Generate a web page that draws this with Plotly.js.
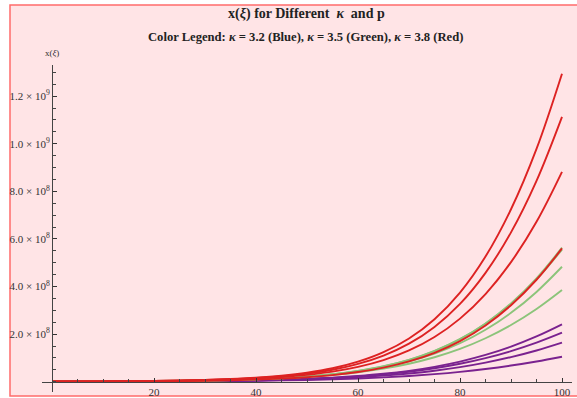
<!DOCTYPE html>
<html>
<head>
<meta charset="utf-8">
<script src="https://cdn.plot.ly/plotly-3.0.1.min.js"></script>
<style>html,body{margin:0;padding:0;background:#fff;}#chart{width:577px;height:398px;}</style>
</head>
<body>
<div id="chart"></div>
<script>
// ξ sample positions
var xi = [0, 5, 10, 15, 20, 25, 30, 35, 40, 45, 50, 55, 60, 65, 70, 75, 80, 85, 90, 95, 100];

// κ = 3.8 (Red)
var red1 = [0.7e6, 1.0e6, 1.5e6, 2.3e6, 3.4e6, 5.1e6, 7.6e6, 1.136e7, 1.695e7, 2.53e7, 3.77e7, 5.63e7, 8.40e7, 1.240e8, 1.814e8, 2.625e8, 3.745e8, 5.26e8, 7.245e8, 9.78e8, 1.294e9];
var red2 = [0.65e6, 0.97e6, 1.43e6, 2.13e6, 3.16e6, 4.7e6, 6.97e6, 1.034e7, 1.536e7, 2.28e7, 3.39e7, 5.03e7, 7.46e7, 1.097e8, 1.597e8, 2.302e8, 3.269e8, 4.574e8, 6.275e8, 8.44e8, 1.113e9];
var red3 = [0.59e6, 0.87e6, 1.28e6, 1.89e6, 2.79e6, 4.11e6, 6.06e6, 8.93e6, 1.316e7, 1.94e7, 2.86e7, 4.21e7, 6.21e7, 9.07e7, 1.312e8, 1.877e8, 2.650e8, 3.684e8, 5.025e8, 6.72e8, 8.82e8];
var red4 = [0.41e6, 0.6e6, 0.88e6, 1.29e6, 1.90e6, 2.79e6, 4.09e6, 6.0e6, 8.8e6, 1.291e7, 1.894e7, 2.78e7, 4.08e7, 5.92e7, 8.52e7, 1.215e8, 1.707e8, 2.364e8, 3.213e8, 4.283e8, 5.60e8];

// κ = 3.5 (Green)
var green1 = [0.53e6, 0.77e6, 1.11e6, 1.61e6, 2.33e6, 3.37e6, 4.87e6, 7.05e6, 1.021e7, 1.478e7, 2.14e7, 3.10e7, 4.485e7, 6.44e7, 9.14e7, 1.288e8, 1.788e8, 2.449e8, 3.292e8, 4.345e8, 5.63e8];
var green2 = [0.56e6, 0.81e6, 1.17e6, 1.69e6, 2.43e6, 3.51e6, 5.06e6, 7.29e6, 1.051e7, 1.516e7, 2.19e7, 3.15e7, 4.544e7, 6.49e7, 9.19e7, 1.290e8, 1.785e8, 2.436e8, 3.264e8, 4.296e8, 5.55e8];
var green3 = [0.62e6, 0.89e6, 1.26e6, 1.80e6, 2.56e6, 3.64e6, 5.19e6, 7.38e6, 1.051e7, 1.496e7, 2.13e7, 3.03e7, 4.315e7, 6.09e7, 8.52e7, 1.181e8, 1.616e8, 2.182e8, 2.894e8, 3.772e8, 4.83e8];
var green4 = [0.75e6, 1.04e6, 1.45e6, 2.02e6, 2.81e6, 3.91e6, 5.45e6, 7.6e6, 1.059e7, 1.475e7, 2.055e7, 2.86e7, 3.99e7, 5.51e7, 7.55e7, 1.026e8, 1.377e8, 1.826e8, 2.380e8, 3.053e8, 3.85e8];

// κ = 3.2 (Blue, drawn purple)
var blue1 = [0.41e6, 0.58e6, 0.81e6, 1.13e6, 1.59e6, 2.23e6, 3.13e6, 4.39e6, 6.16e6, 8.63e6, 1.211e7, 1.70e7, 2.38e7, 3.31e7, 4.57e7, 6.25e7, 8.44e7, 1.125e8, 1.475e8, 1.902e8, 2.41e8];
var blue2 = [0.45e6, 0.63e6, 0.87e6, 1.20e6, 1.66e6, 2.30e6, 3.18e6, 4.41e6, 6.10e6, 8.44e6, 1.168e7, 1.616e7, 2.235e7, 3.07e7, 4.18e7, 5.64e7, 7.53e7, 9.92e7, 1.286e8, 1.641e8, 2.06e8];
var blue3 = [0.40e6, 0.56e6, 0.76e6, 1.05e6, 1.45e6, 1.99e6, 2.74e6, 3.77e6, 5.18e6, 7.12e6, 9.80e6, 1.348e7, 1.855e7, 2.53e7, 3.43e7, 4.60e7, 6.10e7, 8.00e7, 1.033e8, 1.312e8, 1.64e8];
var blue4 = [0.36e6, 0.49e6, 0.66e6, 0.89e6, 1.20e6, 1.63e6, 2.20e6, 2.97e6, 4.01e6, 5.42e6, 7.33e6, 9.91e6, 1.339e7, 1.796e7, 2.39e7, 3.16e7, 4.13e7, 5.33e7, 6.78e7, 8.50e7, 1.05e8];

// tick labels
var xTickVals = [20, 40, 60, 80, 100];
var xTickText = ['20', '40', '60', '80', '100'];
var yTickVals = [2e8, 4e8, 6e8, 8e8, 1e9, 1.2e9];
var yTickText = ['2.0 × 10<sup>8</sup>', '4.0 × 10<sup>8</sup>', '6.0 × 10<sup>8</sup>',
                 '8.0 × 10<sup>8</sup>', '1.0 × 10<sup>9</sup>', '1.2 × 10<sup>9</sup>'];

var RED = '#dd2222', GREEN = '#8cc47a', PURPLE = '#7a228f';

function tr(y, color) {
  return {x: xi, y: y, type: 'scatter', mode: 'lines',
          line: {color: color, width: 1.9, shape: 'spline', smoothing: 1},
          hoverinfo: 'skip', showlegend: false};
}

var data = [
  tr(blue4, PURPLE), tr(blue3, PURPLE), tr(blue2, PURPLE), tr(blue1, PURPLE),
  tr(green4, GREEN), tr(green3, GREEN), tr(green2, GREEN), tr(green1, GREEN),
  tr(red4, RED), tr(red3, RED), tr(red2, RED), tr(red1, RED)
];

var L = 42, R = 5, T = 65, B = 6, W = 577, H = 398;
var pw = W - L - R, ph = H - T - B;
function px(p) { return (p - L) / pw; }
function py(p) { return (H - B - p) / ph; }

var serif = 'Liberation Serif, Times New Roman, serif';

var layout = {
  width: W, height: H,
  margin: {l: L, r: R, t: T, b: B, pad: 0},
  paper_bgcolor: '#ffffff',
  plot_bgcolor: 'rgba(0,0,0,0)',
  showlegend: false,
  font: {family: serif, color: '#333333', size: 10},
  xaxis: {
    range: [-1.96, 101.96], anchor: 'free', position: py(381.7),
    showline: true, linecolor: '#444', linewidth: 1,
    showgrid: false, zeroline: false,
    tickmode: 'array', tickvals: xTickVals, ticktext: xTickText,
    ticks: 'inside', ticklen: 4, tickcolor: '#333', tickwidth: 1,
    tickfont: {family: serif, size: 11, color: '#333'},
    minor: {dtick: 5, tick0: 0, ticks: 'inside', ticklen: 2.5, tickcolor: '#444', showgrid: false},
    fixedrange: true
  },
  yaxis: {
    range: [-4.33e7, 1.3307e9], anchor: 'free', position: px(52),
    showline: true, linecolor: '#444', linewidth: 1,
    showgrid: false, zeroline: false,
    tickmode: 'array', tickvals: yTickVals, ticktext: yTickText,
    ticks: 'inside', ticklen: 4, tickcolor: '#333', tickwidth: 1,
    tickfont: {family: serif, size: 11, color: '#333'},
    minor: {dtick: 5e7, tick0: 0, ticks: 'inside', ticklen: 2.5, tickcolor: '#444', showgrid: false},
    fixedrange: true
  },
  shapes: [
    {type: 'rect', xref: 'paper', yref: 'paper', layer: 'below',
     x0: px(10), x1: px(600), y0: py(396), y1: py(5),
     fillcolor: '#ffe4e6', line: {color: '#ff6b6b', width: 1.5}}
  ],
  annotations: [
    {xref: 'paper', yref: 'paper', x: px(306), y: py(14), xanchor: 'center', yanchor: 'middle',
     showarrow: false, text: '<b>x(<i>ξ</i>) for Different&nbsp; <i>κ</i>&nbsp; and p</b>',
     font: {family: serif, size: 14, color: '#222'}},
    {xref: 'paper', yref: 'paper', x: px(305), y: py(37), xanchor: 'center', yanchor: 'middle',
     showarrow: false, text: '<b>Color Legend: <i>κ</i> = 3.2 (Blue), <i>κ</i> = 3.5 (Green), <i>κ</i> = 3.8 (Red)</b>',
     font: {family: serif, size: 12.6, color: '#222'}},
    {xref: 'paper', yref: 'paper', x: px(52), y: py(53), xanchor: 'center', yanchor: 'middle',
     showarrow: false, text: 'x(<i>ξ</i>)',
     font: {family: serif, size: 9, color: '#333'}}
  ]
};

Plotly.newPlot('chart', data, layout, {staticPlot: true, displayModeBar: false});
</script>
</body>
</html>
